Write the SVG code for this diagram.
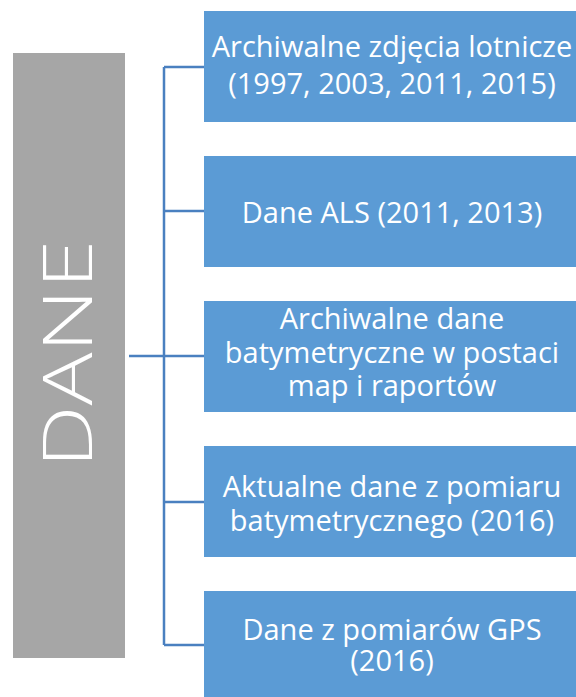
<svg xmlns="http://www.w3.org/2000/svg" width="576" height="697" viewBox="0 0 576 697">
<style>
.box{fill:#5b9bd5;}
.t{font-family:"Open Sans","Liberation Sans",sans-serif;font-size:29px;fill:#ffffff;text-anchor:middle;}
.conn{stroke:#4a80c0;stroke-width:2.5;fill:none;}
</style>
<rect width="576" height="697" fill="#ffffff"/>
<g id="dane">
<rect x="13" y="53" width="112" height="605" fill="#a6a6a6"/>
<text transform="translate(92,354) rotate(-90)" x="0" y="0" font-family="'Open Sans','Liberation Sans',sans-serif" font-weight="300" font-size="68" fill="#ffffff" text-anchor="middle" textLength="228" lengthAdjust="spacingAndGlyphs">DANE</text>
</g>
<g id="connectors">
<path class="conn" d="M129,356 H204 M164,67 V645 M164,67 H204 M164,211 H204 M164,502 H204 M164,645 H204"/>
</g>
<g id="n1">
<rect class="box" x="204" y="11" width="376" height="111"/>
<text class="t" x="392" y="57">Archiwalne zdjęcia lotnicze</text>
<text class="t" x="392" y="94">(1997, 2003, 2011, 2015)</text>
</g>
<g id="n2">
<rect class="box" x="204" y="156" width="376" height="111"/>
<text class="t" x="392" y="223">Dane ALS (2011, 2013)</text>
</g>
<g id="n3">
<rect class="box" x="204" y="301" width="376" height="111"/>
<text class="t" x="392" y="329">Archiwalne dane</text>
<text class="t" x="392" y="363">batymetryczne w postaci</text>
<text class="t" x="392" y="396">map i raportów</text>
</g>
<g id="n4">
<rect class="box" x="204" y="446" width="376" height="111"/>
<text class="t" x="392" y="497">Aktualne dane z pomiaru</text>
<text class="t" x="392" y="531">batymetrycznego (2016)</text>
</g>
<g id="n5">
<rect class="box" x="204" y="591" width="376" height="111"/>
<text class="t" x="392" y="640">Dane z pomiarów GPS</text>
<text class="t" x="392" y="671">(2016)</text>
</g>
</svg>
